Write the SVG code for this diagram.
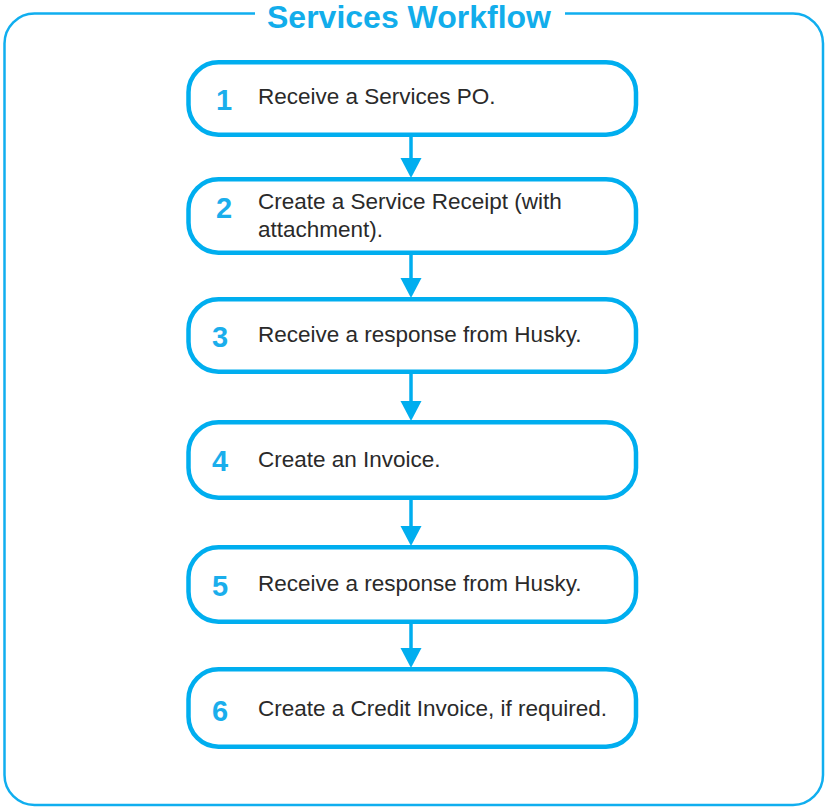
<svg xmlns="http://www.w3.org/2000/svg" width="827" height="807" viewBox="0 0 827 807">
<style>
.frame{fill:none;stroke:#10AEEF;stroke-width:2.5}
.box{fill:#fff;stroke:#00AEEF;stroke-width:4.5}
.num{font-family:"Liberation Sans",Arial,sans-serif;font-weight:bold;font-size:29px;fill:#1AAEEC;text-anchor:middle}
.txt{font-family:"Liberation Sans",Arial,sans-serif;font-size:22.5px;fill:#2a2a2a}
.title{font-family:"Liberation Sans",Arial,sans-serif;font-weight:bold;font-size:32px;fill:#12ADEB;text-anchor:middle}
.shaft{stroke:#00AEEF;stroke-width:3.5;fill:none}
.head{fill:#00AEEF}
</style>
<rect width="827" height="807" fill="#fff"/>
<g id="frame">
<path class="frame" d="M255,13.5 H34.5 A30,30 0 0 0 4.5,43.5 V775 A30,30 0 0 0 34.5,805 H793 A30,30 0 0 0 823,775 V43.5 A30,30 0 0 0 793,13.5 H565"/>
<text class="title" x="409" y="27.5">Services Workflow</text>
</g>
<g id="connectors">
<line class="shaft" x1="411" y1="136" x2="411" y2="160"/><polygon class="head" points="400.5,158 421.5,158 411,178"/>
<line class="shaft" x1="411" y1="254" x2="411" y2="280"/><polygon class="head" points="400.5,278 421.5,278 411,298"/>
<line class="shaft" x1="411" y1="372" x2="411" y2="403"/><polygon class="head" points="400.5,401 421.5,401 411,421"/>
<line class="shaft" x1="411" y1="498" x2="411" y2="528"/><polygon class="head" points="400.5,526 421.5,526 411,546"/>
<line class="shaft" x1="411" y1="622" x2="411" y2="650"/><polygon class="head" points="400.5,648 421.5,648 411,668"/>
</g>
<g id="step1">
<rect class="box" x="188.5" y="62.25" width="447.5" height="72.5" rx="30"/>
<text class="num" x="224" y="110">1</text>
<text class="txt" x="258" y="103.5">Receive a Services PO.</text>
</g>
<g id="step2">
<rect class="box" x="188.5" y="179.25" width="447.5" height="73.5" rx="30"/>
<text class="num" x="224" y="218">2</text>
<text class="txt" x="258" y="209">Create a Service Receipt (with</text>
<text class="txt" x="258" y="236.5">attachment).</text>
</g>
<g id="step3">
<rect class="box" x="188.5" y="299.25" width="447.5" height="72.5" rx="30"/>
<text class="num" x="220" y="347">3</text>
<text class="txt" x="258" y="342">Receive a response from Husky.</text>
</g>
<g id="step4">
<rect class="box" x="188.5" y="422.25" width="447.5" height="75.5" rx="30"/>
<text class="num" x="220" y="471">4</text>
<text class="txt" x="258" y="467">Create an Invoice.</text>
</g>
<g id="step5">
<rect class="box" x="188.5" y="547.25" width="447.5" height="74.5" rx="30"/>
<text class="num" x="220" y="596">5</text>
<text class="txt" x="258" y="591">Receive a response from Husky.</text>
</g>
<g id="step6">
<rect class="box" x="188.5" y="669.25" width="447.5" height="77.5" rx="30"/>
<text class="num" x="220" y="721">6</text>
<text class="txt" x="258" y="716">Create a Credit Invoice, if required.</text>
</g>
</svg>
